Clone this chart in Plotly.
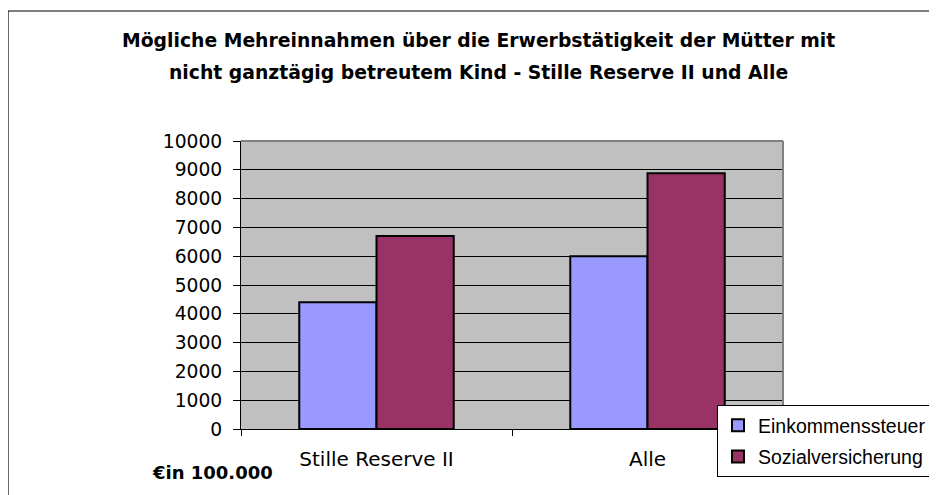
import plotly.graph_objects as go

categories = ["Stille Reserve II", "Alle"]
einkommenssteuer = [4400, 6000]
sozialversicherung = [6700, 8880]
series_names = ["Einkommenssteuer", "Sozialversicherung"]
title_lines = ["Mögliche Mehreinnahmen über die Erwerbstätigkeit der Mütter mit",
               "nicht ganztägig betreutem Kind - Stille Reserve II und Alle"]
unit_text = "€in 100.000"

FONT = "DejaVu Sans, Liberation Sans, Arial, sans-serif"
LEGFONT = "Liberation Sans, Arial, sans-serif"

fig = go.Figure()
fig.add_trace(go.Bar(x=categories, y=einkommenssteuer, name=series_names[0], legendgroup="a",
                     marker=dict(color="#9999FF", line=dict(color="black", width=2))))
fig.add_trace(go.Bar(x=categories, y=sozialversicherung, name=series_names[1], legendgroup="b",
                     marker=dict(color="#993366", line=dict(color="black", width=2))))

# the page body has an 8px margin: figure coordinates = page coordinates - 8
OFF = 8
W, H = 937 - OFF, 495 - OFF
L, R, T, B = 241 - OFF, 783 - OFF, 141 - OFF, 429 - OFF
pw, ph = R - L, B - T

def px_x(p):
    return (p - OFF - L) / pw

def px_y(p):
    return (B - (p - OFF)) / ph

fig.update_layout(
    width=W, height=H,
    margin=dict(l=L, r=W - R, t=T, b=H - B, autoexpand=False),
    paper_bgcolor="white",
    plot_bgcolor="#C0C0C0",
    font=dict(family=FONT, size=19, color="black"),
    barmode="group",
    bargap=0.43,
    bargroupgap=0,
    showlegend=True,
    legend=dict(x=px_x(717), y=px_y(405), xanchor="left", yanchor="top",
                bgcolor="white", bordercolor="black", borderwidth=1,
                font=dict(size=19.5, family=LEGFONT), tracegroupgap=3, itemwidth=30),
    xaxis=dict(showline=True, linecolor="black", linewidth=1, ticks="outside",
               tickson="boundaries", ticklen=6, tickcolor="black",
               tickfont=dict(size=20), ticklabelstandoff=12, showgrid=False),
    yaxis=dict(range=[0, 10000], dtick=1000, tickformat="d", showline=True,
               linecolor="black", linewidth=1, ticks="outside", ticklen=7,
               tickcolor="black", showgrid=True, gridcolor="black", gridwidth=1,
               tickfont=dict(size=18.7), ticklabelstandoff=7, zeroline=False),
    shapes=[
        dict(type="rect", xref="paper", yref="paper", x0=px_x(8), x1=px_x(1100),
             y0=px_y(700), y1=px_y(11), line=dict(color="black", width=1.2), layer="below"),
        dict(type="line", xref="paper", yref="paper", x0=0, x1=1, y0=1, y1=1,
             line=dict(color="#808080", width=2)),
        dict(type="line", xref="paper", yref="paper", x0=1, x1=1, y0=0, y1=1,
             line=dict(color="#808080", width=2)),
    ],
    annotations=[
        dict(text="<b>" + title_lines[0] + "</b>", xref="paper", yref="paper",
             x=px_x(478), y=px_y(40), xanchor="center", yanchor="middle",
             showarrow=False, font=dict(size=18.8, family=FONT)),
        dict(text="<b>" + title_lines[1] + "</b>", xref="paper", yref="paper",
             x=px_x(478), y=px_y(72), xanchor="center", yanchor="middle",
             showarrow=False, font=dict(size=18.8, family=FONT)),
        dict(text="<b>" + unit_text + "</b>", xref="paper", yref="paper",
             x=px_x(150), y=px_y(472), xanchor="left", yanchor="middle",
             showarrow=False, font=dict(size=18, family=FONT)),
    ],
)

fig.write_html("out.html")
